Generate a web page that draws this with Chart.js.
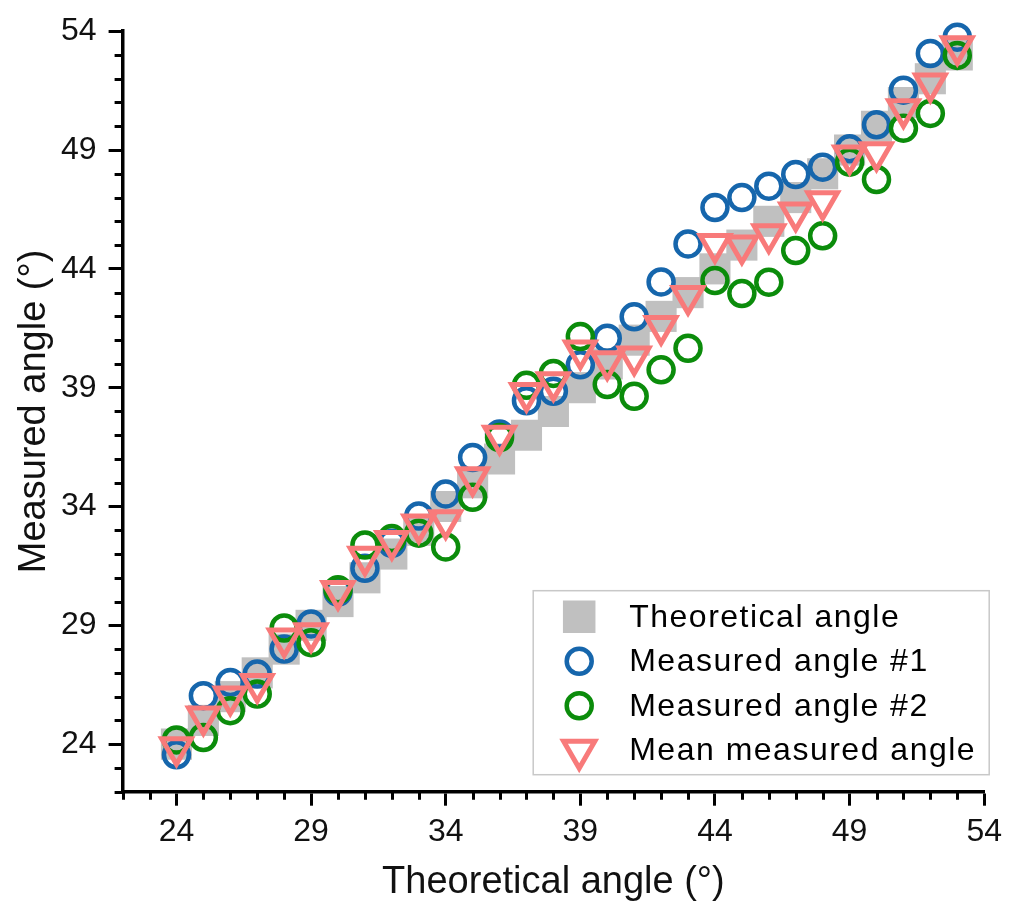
<!DOCTYPE html>
<html>
<head>
<meta charset="utf-8">
<title>Theoretical vs measured angle</title>
<script src="https://cdn.jsdelivr.net/npm/chart.js@4.4.1/dist/chart.umd.min.js"></script>
<style>
    html, body { margin: 0; padding: 0; background: #fff; }
    #wrap { width: 1009px; height: 908px; }
</style>
</head>
<body>
<div id="wrap"><canvas id="angleChart" width="1009" height="908"></canvas></div>
<script>
// theoretical angle, one per step
const theoryX = [24, 25, 26, 27, 28, 29, 30, 31, 32, 33, 34, 35, 36, 37, 38,
    39, 40, 41, 42, 43, 44, 45, 46, 47, 48, 49, 50, 51, 52, 53];
const theoryY = [24, 25, 26, 27, 28, 29, 30, 31, 32, 33, 34, 35, 36, 37, 38,
    39, 40, 41, 42, 43, 44, 45, 46, 47, 48, 49, 50, 51, 52, 53];

const measured1 = [23.55, 26.04, 26.60, 26.95, 28.00, 29.06, 30.40, 31.40, 32.45, 33.60,
    34.53, 36.06, 37.05, 38.45, 38.85, 39.96, 41.08, 41.98, 43.45, 45.05,
    46.58, 47.00, 47.48, 47.97, 48.28, 49.05, 50.06, 51.52, 53.06, 53.75];
const measured2 = [24.18, 24.28, 25.41, 26.11, 28.89, 28.27, 30.50, 32.38, 32.65, 32.88,
    32.30, 34.39, 36.90, 39.10, 39.60, 41.15, 39.13, 38.64, 39.75, 40.66,
    43.51, 42.96, 43.44, 44.77, 45.39, 48.49, 47.76, 49.92, 50.54, 52.98];
const meanMeasured = [23.87, 25.16, 26.01, 26.53, 28.45, 28.67, 30.45, 31.89, 32.55, 33.24,
    33.42, 35.23, 36.98, 38.78, 39.23, 40.56, 40.11, 40.31, 41.60, 42.86,
    45.05, 44.98, 45.46, 46.37, 46.84, 48.77, 48.91, 50.72, 51.80, 53.37];

const majorTicks = [24, 29, 34, 39, 44, 49, 54];
const axisMin = 22;
const axisMax = 54;

const FONT = "'Liberation Sans', Arial, sans-serif";

const COLORS = {
    theory: '#c0c0c0',
    m1: '#1666ac',
    m2: '#0b8c0b',
    mean: '#f87a7a',
};

function toPoints(xs, ys) {
    return xs.map((x, i) => ({ x, y: ys[i] }));
}

// short ticks on every integer between the labelled ones
const minorTicks = {
    id: 'minorTicks',
    afterDraw(chart) {
        const { ctx } = chart;
        const xs = chart.scales.x;
        const ys = chart.scales.y;
        ctx.save();
        ctx.strokeStyle = '#000';
        ctx.lineWidth = 3;
        ctx.beginPath();
        for (let v = axisMin; v <= axisMax; v++) {
            if (majorTicks.includes(v)) continue;
            const px = Math.round(xs.getPixelForValue(v)) + 0.5;
            ctx.moveTo(px, ys.bottom);
            ctx.lineTo(px, ys.bottom + 8);
            const py = Math.round(ys.getPixelForValue(v)) + 0.5;
            ctx.moveTo(xs.left, py);
            ctx.lineTo(xs.left - 8, py);
        }
        ctx.stroke();
        ctx.restore();
    },
};

// boxed legend sitting inside the plot, lower right
const insideLegend = {
    id: 'insideLegend',
    afterDatasetsDraw(chart) {
        const { ctx, chartArea } = chart;
        const boxW = 456;
        const boxH = 184;
        const right = chartArea.right + 5;
        const bottom = chartArea.bottom - 17;
        const left = right - boxW;
        const top = bottom - boxH;

        ctx.save();
        ctx.fillStyle = '#fff';
        ctx.fillRect(left, top, boxW, boxH);
        ctx.strokeStyle = '#c8c8c8';
        ctx.lineWidth = 1.5;
        ctx.strokeRect(left, top, boxW, boxH);

        const rowGap = 44.5;
        chart.data.datasets.forEach((ds, i) => {
            const cy = top + 26 + i * rowGap;
            const cx = left + 46;
            ctx.fillStyle = ds.backgroundColor;
            ctx.strokeStyle = ds.borderColor;
            ctx.lineWidth = ds.borderWidth;
            Chart.helpers.drawPoint(ctx, {
                pointStyle: ds.pointStyle,
                radius: ds.legendRadius,
                rotation: ds.pointRotation || 0,
                borderWidth: ds.borderWidth,
            }, cx, cy);

            ctx.fillStyle = '#000';
            ctx.font = '32px ' + FONT;
            ctx.letterSpacing = '1.5px';
            ctx.textAlign = 'left';
            ctx.textBaseline = 'middle';
            ctx.fillText(ds.label, left + 96, cy + 1);
        });
        ctx.restore();
    },
};

function axisOptions(titleText, titlePadding, fitSize, horizontal) {
    return {
        type: 'linear',
        min: axisMin,
        max: axisMax,
        afterBuildTicks: scale => {
            scale.ticks = majorTicks.map(value => ({ value }));
        },
        afterFit: scale => {
            if (horizontal) {
                scale.height = fitSize;
            } else {
                scale.width = fitSize;
            }
        },
        border: { display: true, color: '#000', width: 3.5 },
        grid: {
            drawOnChartArea: false,
            drawTicks: true,
            tickLength: 14,
            tickWidth: 3,
            tickColor: '#000',
        },
        ticks: {
            color: '#111',
            padding: horizontal ? 7 : 12,
            maxRotation: 0,
            autoSkip: false,
            font: { family: FONT, size: 32 },
        },
        title: {
            display: true,
            text: titleText,
            color: '#111',
            padding: titlePadding,
            font: { family: FONT, size: 38 },
        },
    };
}

new Chart(document.getElementById('angleChart'), {
    type: 'scatter',
    data: {
        datasets: [
            {
                label: 'Theoretical angle',
                data: toPoints(theoryX, theoryY),
                pointStyle: 'rect',
                pointRadius: 22,
                legendRadius: 23,
                backgroundColor: COLORS.theory,
                borderColor: COLORS.theory,
                borderWidth: 0,
                order: 4,
            },
            {
                label: 'Measured angle #1',
                data: toPoints(theoryX, measured1),
                pointStyle: 'circle',
                pointRadius: 12.5,
                legendRadius: 12.5,
                backgroundColor: 'rgba(0,0,0,0)',
                borderColor: COLORS.m1,
                borderWidth: 4.5,
                order: 3,
            },
            {
                label: 'Measured angle #2',
                data: toPoints(theoryX, measured2),
                pointStyle: 'circle',
                pointRadius: 12.5,
                legendRadius: 12.5,
                backgroundColor: 'rgba(0,0,0,0)',
                borderColor: COLORS.m2,
                borderWidth: 4.5,
                order: 2,
            },
            {
                label: 'Mean measured angle',
                data: toPoints(theoryX, meanMeasured),
                pointStyle: 'triangle',
                pointRotation: 180,
                pointRadius: 17,
                legendRadius: 18,
                backgroundColor: 'rgba(0,0,0,0)',
                borderColor: COLORS.mean,
                borderWidth: 5,
                order: 1,
            },
        ],
    },
    options: {
        responsive: false,
        animation: false,
        clip: false,
        layout: {
            padding: { top: 25, right: 20.7, bottom: 0, left: 0 },
        },
        plugins: {
            legend: { display: false },
            tooltip: { enabled: false },
        },
        scales: {
            x: axisOptions('Theoretical angle (°)', { top: 0, bottom: 3 }, 116.3, true),
            y: axisOptions('Measured angle (°)', { top: 12, bottom: 0 }, 122.6, false),
        },
    },
    plugins: [minorTicks, insideLegend],
});
</script>
</body>
</html>
